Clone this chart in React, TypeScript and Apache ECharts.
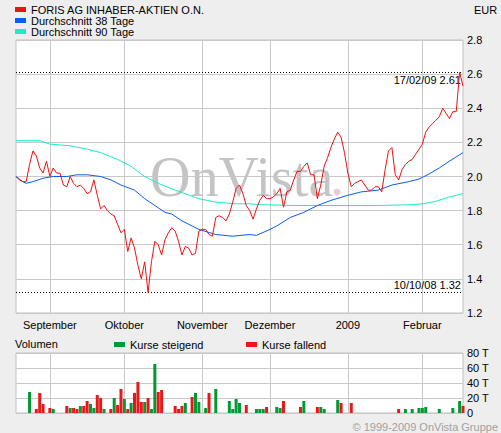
import React, { useEffect, useRef } from "react";
import * as echarts from "echarts";

// ---- data ----
const START_DATE = "2008-08-18";
const END_DATE = "2009-02-18";

const MONTH_TICK_LABELS: Record<string, string> = {
  "09": "September",
  "10": "Oktober",
  "11": "November",
  "12": "Dezember",
  "01": "2009",
  "02": "Februar",
};

const PRICE_NAME = "FORIS AG INHABER-AKTIEN O.N.";
const MA38_NAME = "Durchschnitt 38 Tage";
const MA90_NAME = "Durchschnitt 90 Tage";
const UP_NAME = "Kurse steigend";
const DOWN_NAME = "Kurse fallend";

const PRICE = [
  2.0, 1.98, 1.97, 1.97, 2.07, 2.15, 2.12, 2.05, 2.02, 2.09,
  2.0, 2.05, 2.02, 2.02, 1.95, 1.94, 2.0, 1.96, 1.94, 1.95,
  1.93, 1.9, 1.91, 1.98, 1.89, 1.81, 1.83, 1.8, 1.78, 1.77,
  1.72, 1.67, 1.69, 1.56, 1.64, 1.58, 1.48, 1.4, 1.5, 1.32,
  1.5, 1.62, 1.6, 1.54, 1.63, 1.67, 1.7, 1.68, 1.62, 1.54,
  1.59, 1.58, 1.54, 1.55, 1.68, 1.69, 1.69, 1.66, 1.65, 1.76,
  1.77, 1.76, 1.74, 1.78, 1.85, 1.93, 1.95, 1.9, 1.83, 1.8,
  1.75, 1.81, 1.86, 1.89, 1.87, 1.87, 1.88, 1.9, 1.93, 1.82,
  1.91, 1.92, 1.98, 2.03, 2.03, 2.06, 2.08, 2.01, 2.01, 1.87,
  1.95, 2.06, 2.11, 2.17, 2.22, 2.26, 2.23, 2.14, 2.02, 1.94,
  1.96, 1.97, 1.98, 1.95, 1.92, 1.92, 1.94, 1.94, 1.91, 2.04,
  2.15, 2.17, 2.01, 1.98, 2.04, 2.07, 2.09, 2.1, 2.13, 2.16,
  2.19, 2.26, 2.29, 2.31, 2.33, 2.35, 2.4, 2.37, 2.34, 2.38,
  2.38, 2.61, 2.53,
];

// [trading-day index, value]
const MA38: [number, number][] = [
  [0, 2.0], [2, 1.97], [3, 1.96], [5, 1.97], [8, 1.99], [11, 2.0], [15, 2.0],
  [18, 2.01], [21, 2.01], [25, 2.0], [28, 1.98], [31, 1.95], [35, 1.92],
  [38, 1.87], [41, 1.83], [44, 1.79], [46, 1.78], [49, 1.74], [52, 1.71],
  [54, 1.69], [59, 1.66], [64, 1.65], [69, 1.66], [71, 1.655], [75, 1.69],
  [77, 1.71], [81, 1.76], [85, 1.79], [89, 1.83], [93, 1.86], [98, 1.89],
  [102, 1.91], [107, 1.92], [111, 1.95], [116, 1.97], [119, 1.985],
  [122, 2.015], [125, 2.05], [128, 2.09], [132, 2.14],
];

const MA90: [number, number][] = [
  [0, 2.21], [7, 2.21], [10, 2.19], [16, 2.18], [21, 2.16], [25, 2.14],
  [30, 2.1], [34, 2.06], [38, 2.0], [42, 1.96], [47, 1.92], [54, 1.87],
  [59, 1.85], [65, 1.84], [69, 1.84], [72, 1.835], [82, 1.83], [107, 1.83],
  [117, 1.835], [120, 1.84], [124, 1.855], [128, 1.88], [132, 1.9],
];

// volume in thousands, [trading-day index, volume]
const VOL_UP: [number, number][] = [
  [4, 28], [11, 5.3], [16, 6.7], [19, 9.3], [22, 12], [23, 6.7], [26, 5.3],
  [29, 20], [32, 18.7], [34, 13.3], [38, 14.7], [40, 5.3], [41, 65.3],
  [50, 13.3], [53, 26.7], [54, 14.7], [56, 6.7], [59, 32], [63, 16], [64, 5.3],
  [65, 18.7], [66, 13.3], [71, 5.3], [72, 5.3], [73, 5.3], [77, 8], [78, 6.7],
  [85, 16], [90, 8], [91, 5.3], [95, 17.3], [115, 5.3], [117, 5.3], [119, 6.7],
  [120, 6.7], [121, 8], [125, 5.3], [129, 6.7], [131, 16],
];

const VOL_DOWN: [number, number][] = [
  [6, 5.3], [7, 26.7], [8, 12], [10, 6.7], [15, 9.3], [17, 6.7], [18, 5.3],
  [20, 9.3], [21, 16], [24, 24], [25, 20], [28, 5.3], [30, 10.7], [31, 32],
  [33, 5.3], [35, 26.7], [36, 41.3], [37, 14.7], [39, 20], [42, 28],
  [43, 30.7], [47, 9.3], [48, 5.3], [49, 9.3], [52, 21.3], [57, 26.7],
  [68, 10.7], [74, 8], [79, 16], [84, 8], [89, 8], [96, 13.3], [99, 13.3],
  [113, 5.3], [132, 9.3],
];

const PRICE_AXIS = { min: 1.2, max: 2.8, interval: 0.2 };
const VOLUME_AXIS = { min: 0, max: 80, interval: 20 };

// ---- helpers ----
function tradingDays(start: string, end: string): string[] {
  const out: string[] = [];
  const d = new Date(start + "T00:00:00Z");
  const e = new Date(end + "T00:00:00Z");
  while (d.getTime() <= e.getTime()) {
    const wd = d.getUTCDay();
    if (wd !== 0 && wd !== 6) out.push(d.toISOString().slice(0, 10));
    d.setUTCDate(d.getUTCDate() + 1);
  }
  return out;
}

const DATES = tradingDays(START_DATE, END_DATE);

const isMonthStart = (i: number) =>
  i > 0 && !!DATES[i] && !!DATES[i - 1] && DATES[i].slice(5, 7) !== DATES[i - 1].slice(5, 7);

const fmtDate = (s: string) => `${s.slice(8, 10)}/${s.slice(5, 7)}/${s.slice(2, 4)}`;

function fillSeries(pairs: [number, number][]) {
  const arr: (number | null)[] = DATES.map(() => null);
  pairs.forEach(([i, v]) => {
    arr[i] = v;
  });
  return arr;
}

const FONT = "'Liberation Sans', Arial, Helvetica, sans-serif";
const SERIF = "'Liberation Serif', 'DejaVu Serif', serif";
const GRID_LINE = "#c8c8c8";
const RED = "#ee1111";
const BLUE = "#0a5cf0";
const CYAN = "#14f0c8";
const GREEN = "#009933";
const VRED = "#e81818";

export default function App() {
  const ref = useRef<HTMLDivElement>(null);

  useEffect(() => {
    if (!ref.current) return;
    const chart = echarts.init(ref.current, null, { renderer: "svg" });

    let maxI = 0;
    let minI = 0;
    PRICE.forEach((v, i) => {
      if (v > PRICE[maxI]) maxI = i;
      if (v < PRICE[minI]) minI = i;
    });

    const monthInterval = (index: number) => isMonthStart(index);

    const legendText = { fontSize: 11, color: "#000", lineHeight: 11, fontFamily: FONT };

    const option: any = {
      animation: false,
      backgroundColor: "#eeeeee",
      textStyle: { fontFamily: FONT },
      legend: [
        {
          orient: "vertical",
          left: 15,
          top: 4,
          padding: 0,
          itemGap: 0,
          itemWidth: 11,
          itemHeight: 5,
          icon: "rect",
          selectedMode: false,
          textStyle: legendText,
          data: [PRICE_NAME, MA38_NAME, MA90_NAME],
        },
        {
          left: 114,
          top: 339,
          padding: 0,
          itemWidth: 11,
          itemHeight: 5,
          icon: "rect",
          selectedMode: false,
          textStyle: legendText,
          data: [UP_NAME],
        },
        {
          left: 246,
          top: 339,
          padding: 0,
          itemWidth: 11,
          itemHeight: 5,
          icon: "rect",
          selectedMode: false,
          textStyle: legendText,
          data: [DOWN_NAME],
        },
      ],
      grid: [
        {
          left: 16,
          right: 38,
          top: 40,
          height: 273,
          show: true,
          backgroundColor: "#ffffff",
          borderColor: "#c0c0c0",
          borderWidth: 1,
        },
        {
          left: 16,
          right: 38,
          top: 353,
          height: 60,
          show: true,
          backgroundColor: "#ffffff",
          borderColor: "#c0c0c0",
          borderWidth: 1,
        },
      ],
      xAxis: [
        {
          type: "category",
          gridIndex: 0,
          data: DATES,
          boundaryGap: false,
          axisLine: { show: false },
          axisTick: { show: false, interval: monthInterval },
          axisLabel: {
            interval: monthInterval,
            margin: 6,
            fontSize: 11,
            color: "#000",
            fontFamily: FONT,
            formatter: (v: string) => MONTH_TICK_LABELS[v.slice(5, 7)] || "",
          },
          splitLine: { show: true, interval: monthInterval, lineStyle: { color: GRID_LINE, width: 1 } },
        },
        {
          type: "category",
          gridIndex: 1,
          data: DATES,
          boundaryGap: false,
          axisLine: { show: false },
          axisTick: { show: false, interval: monthInterval },
          axisLabel: { show: false, interval: monthInterval },
          splitLine: { show: true, interval: monthInterval, lineStyle: { color: GRID_LINE, width: 1 } },
        },
      ],
      yAxis: [
        {
          type: "value",
          gridIndex: 0,
          position: "right",
          min: PRICE_AXIS.min,
          max: PRICE_AXIS.max,
          interval: PRICE_AXIS.interval,
          axisLine: { show: false },
          axisTick: { show: false },
          axisLabel: {
            margin: 4,
            fontSize: 11,
            color: "#000",
            fontFamily: FONT,
            formatter: (v: number) => v.toFixed(1),
          },
          splitLine: { lineStyle: { color: GRID_LINE, width: 1 } },
        },
        {
          type: "value",
          gridIndex: 1,
          position: "right",
          min: VOLUME_AXIS.min,
          max: VOLUME_AXIS.max,
          interval: VOLUME_AXIS.interval,
          axisLine: { show: false },
          axisTick: { show: false },
          axisLabel: {
            margin: 4,
            fontSize: 11,
            color: "#000",
            fontFamily: FONT,
            formatter: (v: number) => (v === 0 ? "0" : `${v} T`),
          },
          splitLine: { lineStyle: { color: GRID_LINE, width: 1 } },
        },
      ],
      graphic: [
        {
          type: "group",
          z: 1,
          silent: true,
          children: [
            {
              type: "text",
              x: 150,
              y: 177,
              silent: true,
              style: {
                text: "OnVista",
                fill: "#c4c4c4",
                font: `56px ${SERIF}`,
                align: "left",
                verticalAlign: "middle",
              },
            },
            {
              type: "circle",
              silent: true,
              shape: { cx: 337, cy: 192, r: 3.5 },
              style: { fill: "#ecccd2" },
            },
          ],
        },
        {
          type: "text",
          left: 474,
          top: 4,
          style: { text: "EUR", fill: "#000", font: `11px ${FONT}` },
        },
        {
          type: "text",
          left: 15,
          top: 338,
          style: { text: "Volumen", fill: "#000", font: `11px ${FONT}` },
        },
        {
          type: "text",
          right: 3,
          top: 421,
          style: { text: "\u00a9 1999-2009 OnVista Gruppe", fill: "#a0a0a0", font: `11px ${FONT}` },
        },
      ],
      series: [
        {
          name: MA90_NAME,
          type: "line",
          xAxisIndex: 0,
          yAxisIndex: 0,
          data: MA90,
          symbol: "none",
          color: CYAN,
          itemStyle: { color: CYAN },
          lineStyle: { color: CYAN, width: 1 },
          z: 3,
        },
        {
          name: MA38_NAME,
          type: "line",
          xAxisIndex: 0,
          yAxisIndex: 0,
          data: MA38,
          symbol: "none",
          color: BLUE,
          itemStyle: { color: BLUE },
          lineStyle: { color: BLUE, width: 1 },
          z: 4,
        },
        {
          name: PRICE_NAME,
          type: "line",
          xAxisIndex: 0,
          yAxisIndex: 0,
          data: PRICE,
          symbol: "none",
          color: RED,
          itemStyle: { color: RED },
          lineStyle: { color: RED, width: 1 },
          z: 5,
          markLine: {
            silent: true,
            symbol: "none",
            animation: false,
            lineStyle: { color: "#000", type: [1, 2], width: 1 },
            label: { color: "#000", fontSize: 11, fontFamily: FONT, distance: 2 },
            data: [
              {
                yAxis: PRICE[maxI],
                label: {
                  position: "insideEndBottom",
                  formatter: `${fmtDate(DATES[maxI])} ${PRICE[maxI]}`,
                },
              },
              {
                yAxis: PRICE[minI],
                label: {
                  position: "insideEndTop",
                  formatter: `${fmtDate(DATES[minI])} ${PRICE[minI]}`,
                },
              },
            ],
          },
        },
        {
          name: UP_NAME,
          type: "bar",
          xAxisIndex: 1,
          yAxisIndex: 1,
          stack: "vol",
          barWidth: 3,
          data: fillSeries(VOL_UP),
          itemStyle: { color: GREEN },
        },
        {
          name: DOWN_NAME,
          type: "bar",
          xAxisIndex: 1,
          yAxisIndex: 1,
          stack: "vol",
          barWidth: 3,
          data: fillSeries(VOL_DOWN),
          itemStyle: { color: VRED },
        },
      ],
    };

    chart.setOption(option);
    return () => chart.dispose();
  }, []);

  return (
    <div
      ref={ref}
      style={{ position: "absolute", left: 0, top: 0, width: 501, height: 433 }}
    />
  );
}
